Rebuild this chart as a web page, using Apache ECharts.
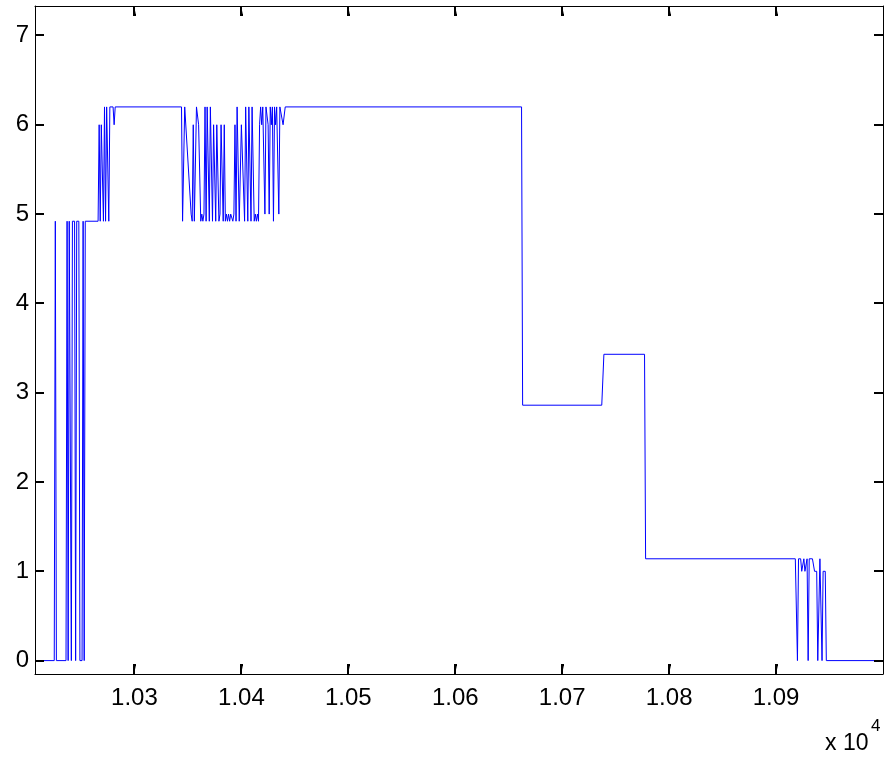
<!DOCTYPE html>
<html>
<head>
<meta charset="utf-8">
<script src="https://cdn.jsdelivr.net/npm/echarts@6/dist/echarts.min.js"></script>
<style>html,body{margin:0;padding:0;background:#fff;}#chart{width:885px;height:758px;}</style>
</head>
<body>
<div id="chart"></div>
<script>
// x positions (raw units, axis shown as x 10^4)
const xs = [
  10207, 10225, 10226, 10227, 10236, 10237, 10238, 10239, 10240, 10241,
  10242, 10244, 10245, 10246, 10248, 10249, 10251, 10252, 10253, 10254,
  10266, 10267, 10268, 10269, 10270, 10271, 10272, 10273, 10274, 10275,
  10276, 10277, 10280, 10281, 10282,
  10344, 10345, 10346, 10347, 10348, 10353, 10354, 10355, 10356, 10357,
  10358, 10359, 10360, 10361, 10362, 10363, 10364, 10365, 10366, 10367,
  10368, 10369, 10370, 10371, 10372, 10373, 10374, 10375, 10376, 10377,
  10378, 10379, 10380, 10381, 10382, 10383, 10384, 10385, 10386, 10387,
  10388, 10389, 10390, 10391, 10392, 10393, 10394, 10395, 10396, 10397,
  10398, 10399, 10400, 10403, 10404, 10405, 10406, 10407, 10408, 10409,
  10410, 10411, 10412, 10413, 10414, 10415, 10416, 10417, 10418, 10419,
  10420, 10421, 10422, 10423, 10424, 10425, 10426, 10427, 10428, 10429,
  10430, 10431, 10432, 10433, 10434, 10435, 10436, 10437, 10439, 10441,
  10662, 10663, 10737, 10739, 10777, 10778,
  10918, 10920, 10921, 10923, 10924, 10926, 10927, 10929, 10930, 10931,
  10934, 10936, 10938, 10939, 10940, 10941, 10942, 10943, 10944, 10946,
  10947, 11000
];
const ys = [
  0, 0, 4.92, 0, 0, 4.92, 0, 4.92, 4.92, 0,
  4.92, 4.92, 0, 4.92, 4.92, 0, 0, 4.92, 0, 4.92,
  4.92, 6.0, 4.92, 6.0, 6.0, 4.92, 6.2, 4.92, 6.2, 6.2,
  4.92, 6.2, 6.2, 6.0, 6.2,
  6.2, 4.92, 4.92, 6.2, 6.2, 5.0, 4.92, 6.0, 4.92, 4.92,
  6.2, 6.2, 6.0, 6.0, 4.92, 5.0, 4.92, 5.0, 6.2, 4.92,
  6.2, 6.2, 4.92, 6.2, 6.2, 4.92, 6.0, 6.0, 4.92, 6.0,
  6.0, 4.92, 5.0, 6.0, 6.0, 4.92, 6.0, 4.92, 5.0, 4.92,
  5.0, 4.92, 5.0, 5.0, 4.92, 5.0, 6.0, 4.92, 6.2, 6.2,
  4.92, 4.92, 6.0, 4.92, 6.2, 6.2, 4.92, 6.2, 6.2, 4.92,
  6.2, 6.2, 4.92, 5.0, 4.92, 5.0, 4.92, 6.0, 6.2, 6.0,
  6.2, 6.2, 5.0, 6.2, 6.2, 6.0, 5.0, 6.2, 6.0, 6.2,
  4.92, 6.2, 6.0, 6.2, 6.2, 5.0, 6.2, 6.2, 6.0, 6.2,
  6.2, 2.86, 2.86, 3.43, 3.43, 1.14,
  1.14, 0, 1.14, 1.14, 1.0, 1.14, 1.0, 1.14, 0, 1.14,
  1.14, 1.0, 1.0, 0, 0, 1.14, 1.14, 0, 1.0, 1.0,
  0, 0
];
const xTicks = [10300, 10400, 10500, 10600, 10700, 10800, 10900];
const yTicks = [0, 1, 2, 3, 4, 5, 6, 7];
const xMin = 10207, xMax = 11000;
const yMin = -0.15, yMax = 7.33;

const data = xs.map((x, i) => [x, ys[i]]);
const FONT = 'Liberation Sans, Arial, sans-serif';
const black = '#000';
const TICK = 9;

function axisBase(extra) {
  return Object.assign({
    type: 'value',
    axisLine: {show: true, onZero: false, lineStyle: {color: black, width: 1}},
    axisTick: {show: false},
    splitLine: {show: false}
  }, extra);
}

// inward tick marks (MATLAB style) drawn as a custom series through the axis scales
function tickRender(params, api) {
  const side = api.value(2); // 0: x ticks, 1: y ticks
  const v = side === 0 ? api.value(0) : api.value(1);
  const st = {stroke: black, lineWidth: 2};
  if (side === 0) {
    const b = api.coord([v, yMin]);
    const t = api.coord([v, yMax]);
    const x = Math.round(b[0]);
    return {type: 'group', children: [
      {type: 'polyline', shape: {points: [[x, b[1]], [x, b[1] - TICK], [x + 2, b[1] - TICK]]}, style: st},
      {type: 'polyline', shape: {points: [[x, t[1]], [x, t[1] + TICK], [x + 2, t[1] + TICK]]}, style: st}
    ]};
  }
  const l = api.coord([xMin, v]);
  const r = api.coord([xMax, v]);
  const y = Math.round(l[1]);
  return {type: 'group', children: [
    {type: 'line', shape: {x1: l[0], y1: y, x2: l[0] + TICK, y2: y}, style: st},
    {type: 'line', shape: {x1: r[0], y1: y, x2: r[0] - TICK, y2: y}, style: st}
  ]};
}
const tickData = xTicks.map(v => [v, 0, 0]).concat(yTicks.map(v => [xMin, v, 1]));

const chart = echarts.init(document.getElementById('chart'), null, {renderer: 'canvas'});
chart.setOption({
  animation: false,
  backgroundColor: '#fff',
  grid: {left: 35, right: 2, top: 6, bottom: 84, outerBoundsMode: 'none'},
  xAxis: [
    axisBase({
      min: xMin, max: xMax, position: 'bottom',
      axisLabel: {customValues: xTicks, formatter: v => (v / 10000).toFixed(2),
        fontSize: 24, fontFamily: FONT, color: black, margin: 12}
    }),
    axisBase({min: xMin, max: xMax, position: 'top', axisLabel: {show: false}})
  ],
  yAxis: [
    axisBase({
      min: yMin, max: yMax, position: 'left',
      axisLabel: {customValues: yTicks, formatter: v => String(v),
        fontSize: 24, fontFamily: FONT, color: black, margin: 6}
    }),
    axisBase({min: yMin, max: yMax, position: 'right', axisLabel: {show: false}})
  ],
  series: [
    {
      type: 'line', xAxisIndex: 0, yAxisIndex: 0,
      data: data, showSymbol: false, symbol: 'none',
      lineStyle: {color: '#0000ff', width: 1},
      itemStyle: {color: '#0000ff'},
      clip: true
    },
    {
      type: 'custom', xAxisIndex: 0, yAxisIndex: 0, silent: true, clip: false, z: 10,
      encode: {x: 0, y: 1},
      dimensions: ['x', 'y', 'side'],
      data: tickData,
      renderItem: tickRender
    }
  ],
  graphic: [
    {type: 'text', left: 825, top: 732, style: {text: 'x 10', font: '23px ' + FONT, fill: black}},
    {type: 'text', left: 871, top: 718, style: {text: '4', font: '17px ' + FONT, fill: black}}
  ]
});
</script>
</body>
</html>
